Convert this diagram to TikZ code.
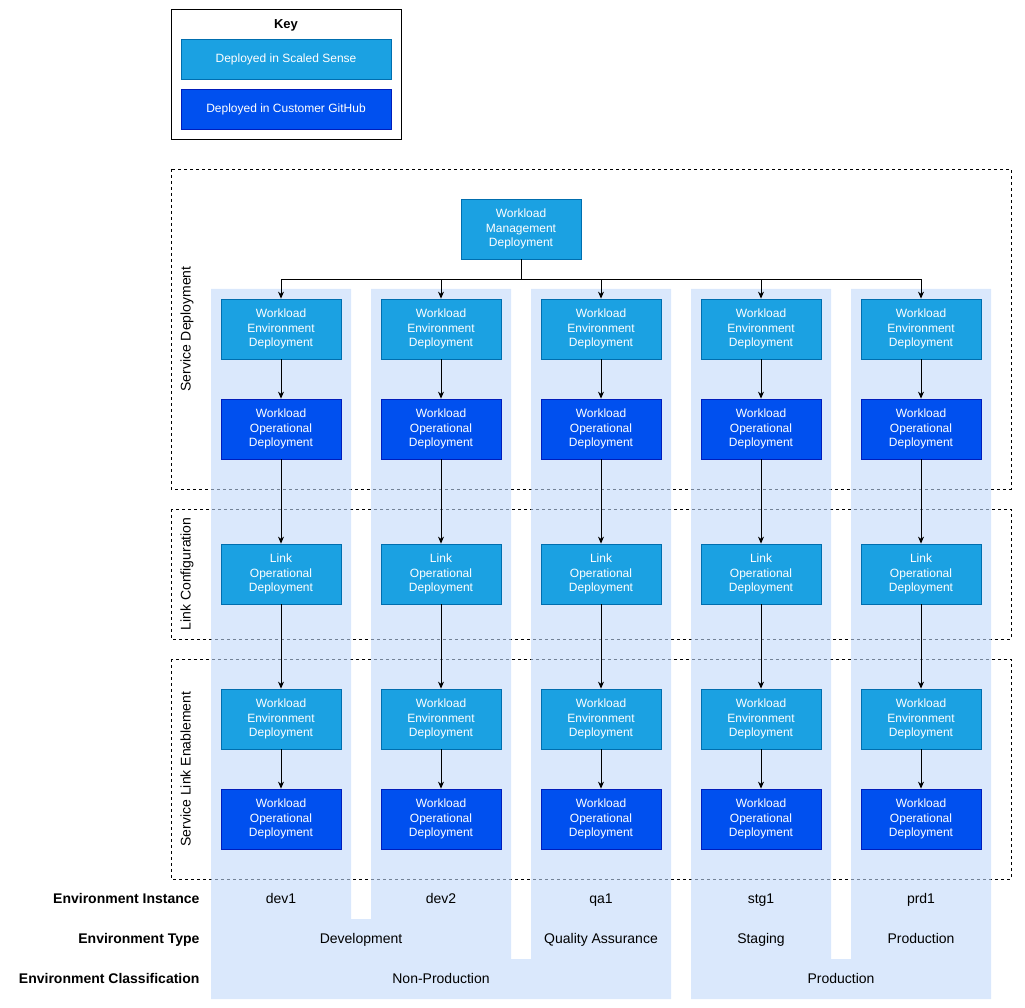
\documentclass[tikz,border=0pt]{standalone}
\usepackage{fontspec}
\setmainfont{Liberation Sans}
\usepackage{tikz}
\usetikzlibrary{arrows.meta,positioning}

\definecolor{scaledfill}{HTML}{1BA1E2}
\definecolor{scaleddraw}{HTML}{006EAF}
\definecolor{ghfill}{HTML}{0050EF}
\definecolor{ghdraw}{HTML}{001DBC}
\definecolor{colbg}{HTML}{C1D9FA}

\tikzset{
  scaledbox/.style={rectangle, draw=scaleddraw, fill=scaledfill, text=white,
    minimum width=120pt, minimum height=60pt, align=center, inner sep=0pt,
    line width=0.8pt, font=\fontsize{12}{14.5}\selectfont},
  ghbox/.style={scaledbox, draw=ghdraw, fill=ghfill},
  region/.style={draw, dash pattern=on 3pt off 3pt, line width=0.8pt},
  flow/.style={-{Stealth[length=7pt,width=6pt]}, line width=0.8pt},
  rowlabel/.style={anchor=east, text height=11pt, text depth=2pt,
    font=\fontsize{14}{16}\selectfont\bfseries},
  celltext/.style={text height=11pt, text depth=2pt, font=\fontsize{14}{16}\selectfont},
}

\begin{document}
\begin{tikzpicture}[x=1pt, y=-1pt]

\useasboundingbox (0,0) rectangle (1025,1008);

% Key
\draw[line width=0.8pt] (171,9) rectangle (401,139);
\node[font=\fontsize{13}{15}\selectfont\bfseries] (keytitle) at (286,25) {Key};
\node[scaledbox, minimum width=210pt, minimum height=40pt] (keyscaled) at (286,59) {Deployed in Scaled Sense};
\node[ghbox, minimum width=210pt, minimum height=40pt] (keygh) at (286,109) {Deployed in Customer GitHub};

% Dashed stage regions
\draw[region] (171,169) rectangle (1011,489);
\draw[region] (171,509) rectangle (1011,639);
\draw[region] (171,659) rectangle (1011,879);

% Environment columns (non-production and production)
\fill[colbg, fill opacity=0.6] (211,289) -- (351,289) -- (351,919) -- (371,919) -- (371,289)
  -- (511,289) -- (511,959) -- (531,959) -- (531,289) -- (671,289) -- (671,999) -- (211,999) -- cycle;
\fill[colbg, fill opacity=0.6] (691,289) -- (831,289) -- (831,959) -- (851,959) -- (851,289)
  -- (991,289) -- (991,999) -- (691,999) -- cycle;

% Stage labels
\node[celltext, rotate=90] (lblservice) at (186,329) {Service Deployment};
\node[celltext, rotate=90] (lbllink) at (186,574) {Link Configuration};
\node[celltext, rotate=90] (lblenable) at (186,769) {Service Link Enablement};

% Management node
\node[scaledbox] (mgmt) at (521,229) {Workload\\Management\\Deployment};
\coordinate (split) at (521,279);

% One column per environment
\foreach \i/\x/\inst in {1/281/dev1, 2/441/dev2, 3/601/qa1, 4/761/stg1, 5/921/prd1} {
  \node[scaledbox] (env\i) at (\x,329) {Workload\\Environment\\Deployment};
  \node[ghbox] (op\i) at (\x,429) {Workload\\Operational\\Deployment};
  \node[scaledbox] (link\i) at (\x,574) {Link\\Operational\\Deployment};
  \node[scaledbox] (envb\i) at (\x,719) {Workload\\Environment\\Deployment};
  \node[ghbox] (opb\i) at (\x,819) {Workload\\Operational\\Deployment};
  \node[celltext] (inst\i) at (\x,899) {\inst};

  \draw[flow] (mgmt.south) -- (split) -| (env\i.north);
  \draw[flow] (env\i) -- (op\i);
  \draw[flow] (op\i) -- (link\i);
  \draw[flow] (link\i) -- (envb\i);
  \draw[flow] (envb\i) -- (opb\i);
}

% Environment types and classifications
\node[celltext] (typedev) at (361,939) {Development};
\node[celltext] (typeqa) at (601,939) {Quality Assurance};
\node[celltext] (typestg) at (761,939) {Staging};
\node[celltext] (typeprd) at (921,939) {Production};
\node[celltext] (classnonprod) at (441,979) {Non-Production};
\node[celltext] (classprod) at (841,979) {Production};

% Row labels
\node[rowlabel] (rowinst) at (203,899) {Environment Instance};
\node[rowlabel] (rowtype) at (203,939) {Environment Type};
\node[rowlabel] (rowclass) at (203,979) {Environment Classification};

\end{tikzpicture}
\end{document}
